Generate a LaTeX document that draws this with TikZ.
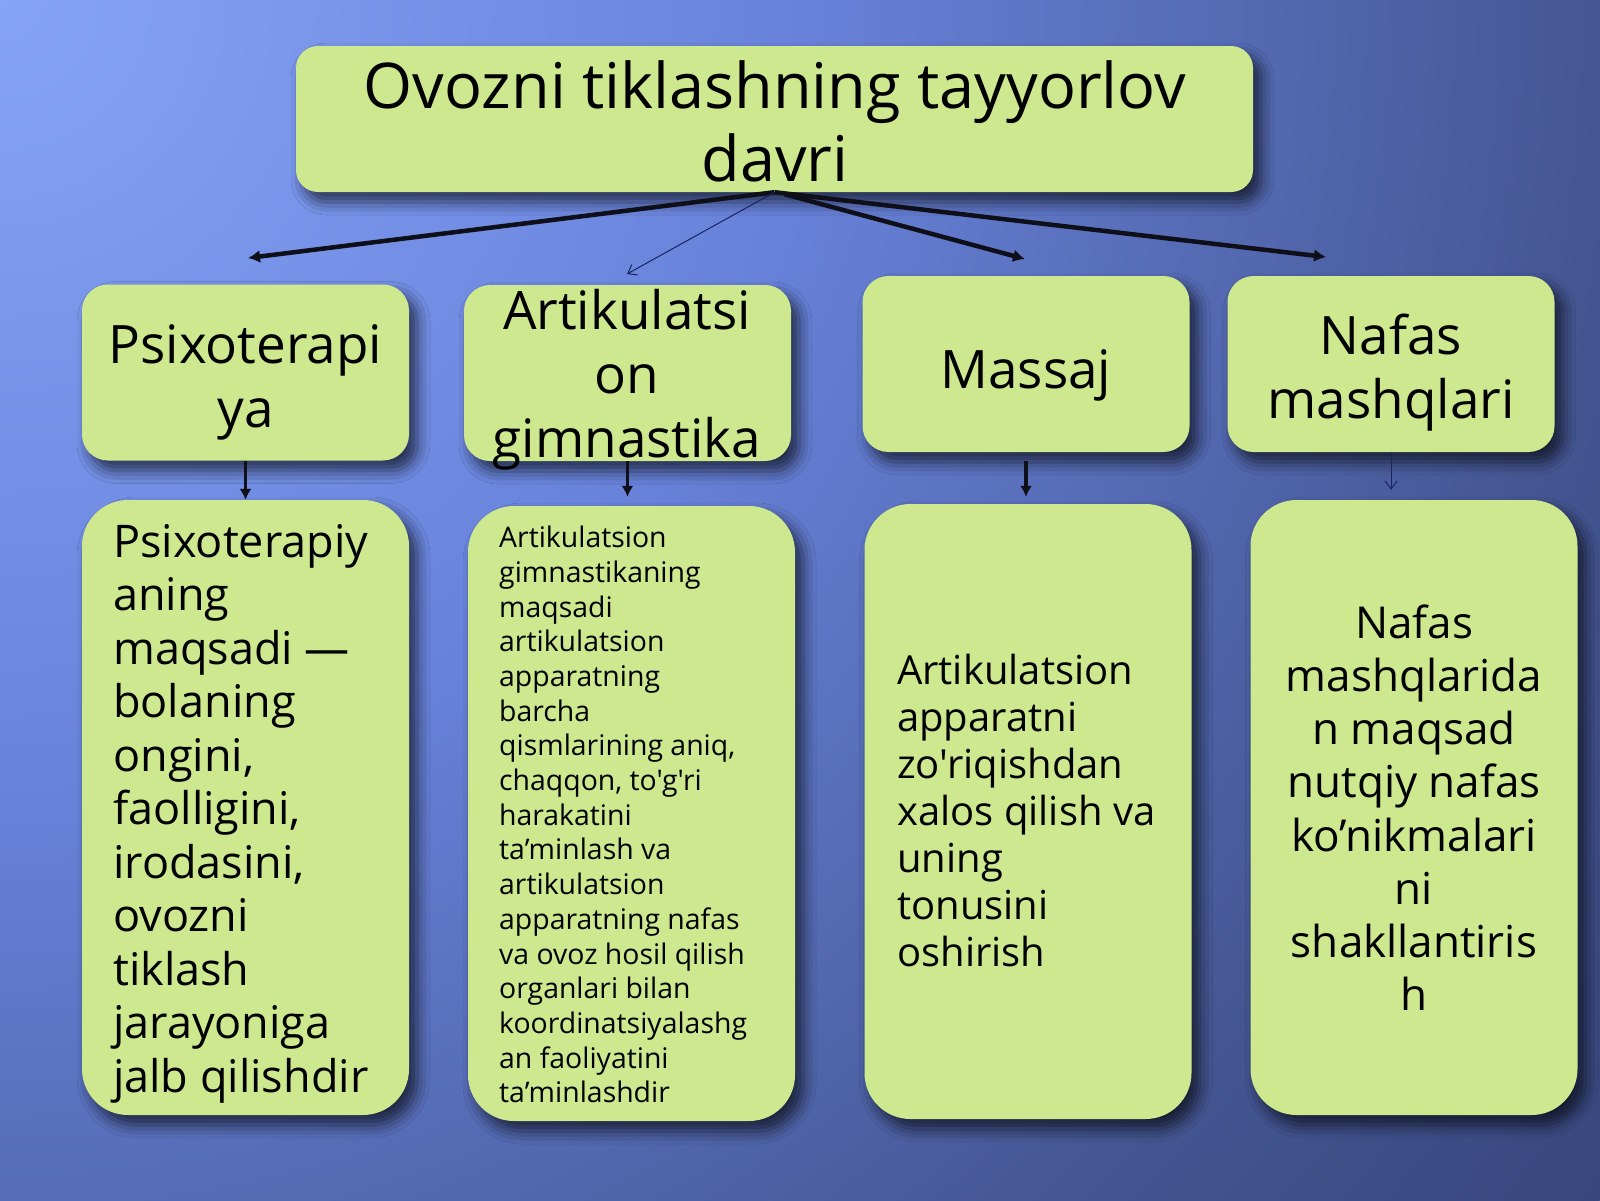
\documentclass[tikz,border=0pt]{standalone}
\usepackage{fontspec}
\newfontfamily\osf{Open Sans}
\usetikzlibrary{arrows.meta,shadows.blur}
\definecolor{boxfill}{RGB}{205,232,143}
\definecolor{bgA}{RGB}{134,164,247}
\definecolor{bgB}{RGB}{104,130,218}
\definecolor{bgC}{RGB}{68,86,146}
\definecolor{bgD}{RGB}{55,70,124}
\definecolor{arrdark}{RGB}{15,15,25}
\definecolor{arrthin}{RGB}{25,35,95}
\pgfdeclareradialshading{bgshade}{\pgfpoint{0bp}{0bp}}{color(0bp)=(bgA); color(10bp)=(bgB); color(20bp)=(bgC); color(25bp)=(bgD); color(50bp)=(bgD)}
\newcommand\tstrut{\rule{0pt}{1em}}
\begin{document}
\begin{tikzpicture}[x=1pt,y=-1pt,
  box/.style={rectangle, fill=boxfill, draw=none, inner sep=0pt,
    blur shadow={shadow xshift=8pt, shadow yshift=-10pt, shadow blur radius=13pt, shadow opacity=65}},
  topbox/.style={box, rounded corners=22pt},
  midbox/.style={box, rounded corners=26pt, minimum width=327pt, minimum height=176pt},
  lowbox/.style={box, rounded corners=46pt, minimum width=327pt, minimum height=615pt},
  txt/.style={inner sep=0pt, text=black},
  thickarr/.style={draw=arrdark, line width=4.5pt, -{Latex[length=12pt,width=13pt]}},
  thinarr/.style={draw=arrthin, line width=1pt, -{Straight Barb[length=8pt,width=12pt]}},
  downarr/.style={draw=arrdark, line width=3.5pt, -{Latex[length=11pt,width=12pt]}},
  thindown/.style={draw=arrthin, line width=1pt, -{Straight Barb[length=8pt,width=12pt]}}
]
\useasboundingbox (0,0) rectangle (1600,1200);
\begin{scope}
\clip (0,0) rectangle (1600,1200);
\shade[shading=bgshade] (0,0) circle (2000);
\end{scope}

% boxes
\node[topbox, minimum width=957pt, minimum height=146pt] (t) at (774.5,119) {};
\node[midbox] (a1) at (245.5,372.5) {};
\node[midbox] (a2) at (627.5,373) {};
\node[midbox] (a3) at (1026,364) {};
\node[midbox] (a4) at (1391,364) {};
\node[lowbox] (b1) at (245.5,807.5) {};
\node[lowbox] (b2) at (631.5,813.5) {};
\node[lowbox] (b3) at (1028,811.5) {};
\node[lowbox] (b4) at (1414,807.5) {};

% arrow ends
\coordinate (e1) at (248,258);
\coordinate (e2) at (627,274);
\coordinate (e3) at (1025,259);
\coordinate (e4) at (1326,257);
\coordinate (s3) at ([xshift=10pt,yshift=-2pt]t.south);

\draw[thickarr] (t.south) -- (e1);
\draw[thinarr] (t.south) -- (e2);
\draw[thickarr] (s3) -- (e3);
\draw[thickarr] (t.south) -- (e4);

\draw[downarr] (a1.south) -- (a1.south |- b1.north);
\draw[downarr] (a2.south) -- ([yshift=9pt]a2.south |- b2.north);
\draw[downarr] ([yshift=-9pt]a3.south) -- ([yshift=7pt]a3.south |- b3.north);
\draw[thindown] (a4.south) -- ([yshift=10pt]a4.south |- b4.north);

% texts
\node[txt, anchor=north, align=center, font=\osf\fontsize{63}{73}\selectfont] (tt) at (775,45)
  {\tstrut Ovozni tiklashning tayyorlov\\davri};
\node[txt, anchor=north, align=center, font=\osf\fontsize{53}{64}\selectfont] (ta1) at (245.5,310)
  {\tstrut Psixoterapi\\ya};
\node[txt, anchor=north, align=center, font=\osf\fontsize{53}{64}\selectfont] (ta2) at (627,276)
  {\tstrut Artikulatsi\\on\\gimnastika};
\node[txt, anchor=north, align=center, font=\osf\fontsize{53}{64}\selectfont] (ta3) at (1026,335)
  {\tstrut Massaj};
\node[txt, anchor=north, align=center, font=\osf\fontsize{53}{64}\selectfont] (ta4) at (1391,301)
  {\tstrut Nafas\\mashqlari};

\node[txt, anchor=north west, align=left, font=\osf\fontsize{45}{53.5}\selectfont] (tb1) at (113,512)
  {\tstrut Psixoterapiy\\aning\\maqsadi —\\bolaning\\ongini,\\faolligini,\\irodasini,\\ovozni\\tiklash\\jarayoniga\\jalb qilishdir};
\node[txt, anchor=north west, align=left, font=\osf\fontsize{28.4}{34.7}\selectfont] (tb2) at (499,519)
  {\tstrut Artikulatsion\\gimnastikaning\\maqsadi\\artikulatsion\\apparatning\\barcha\\qismlarining aniq,\\chaqqon, to'g'ri\\harakatini\\ta’minlash va\\artikulatsion\\apparatning nafas\\va ovoz hosil qilish\\organlari bilan\\koordinatsiyalashg\\an faoliyatini\\ta’minlashdir};
\node[txt, anchor=north west, align=left, font=\osf\fontsize{40}{47}\selectfont] (tb3) at (897,644)
  {\tstrut Artikulatsion\\apparatni\\zo'riqishdan\\xalos qilish va\\uning\\tonusini\\oshirish};
\node[txt, anchor=north, align=center, font=\osf\fontsize{44}{53.2}\selectfont] (tb4) at (1414,594)
  {\tstrut Nafas\\mashqlarida\\n maqsad\\nutqiy nafas\\ko’nikmalari\\ni\\shakllantiris\\h};
\end{tikzpicture}
\end{document}
